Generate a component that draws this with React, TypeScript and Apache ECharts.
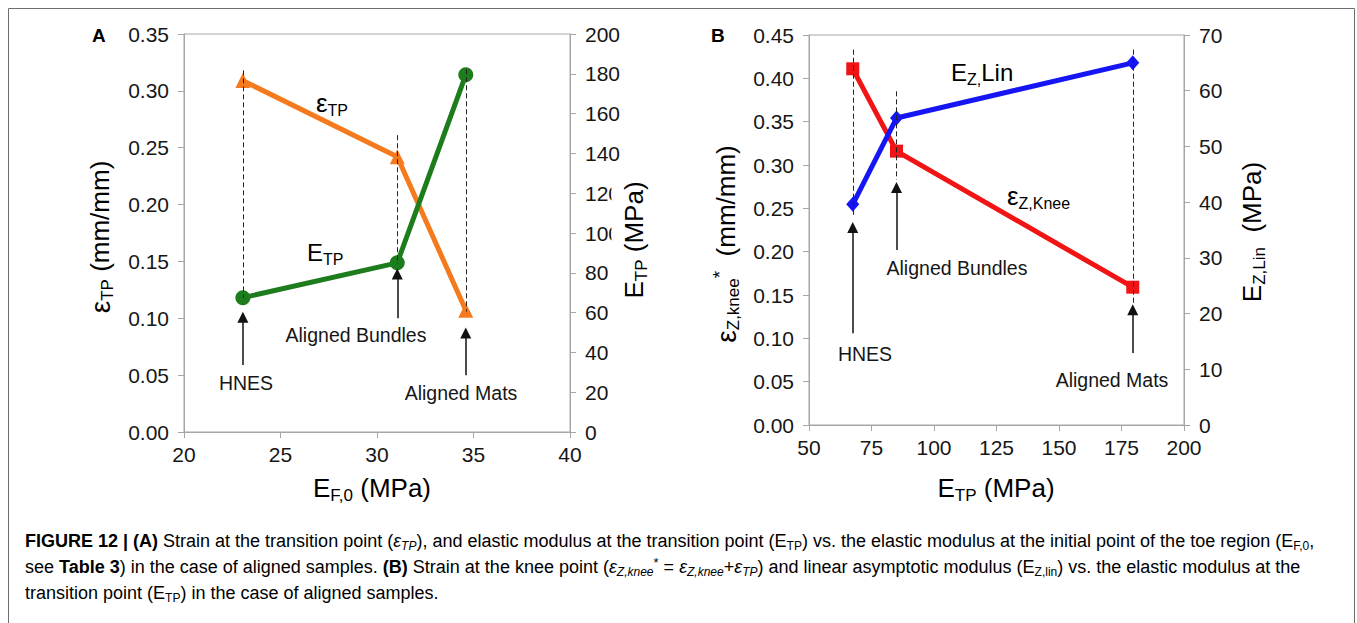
import React, { useEffect, useRef } from 'react';
import * as echarts from 'echarts';

// ---------- data ----------
const groups = ['HNES', 'Aligned Bundles', 'Aligned Mats'];
// Panel A: x = E_F,0 (MPa)
const eF0 = [23.05, 31.05, 34.6];
const epsTP = [0.309, 0.242, 0.107];      // left axis (mm/mm)
const eTP = [67.5, 85, 179.5];            // right axis (MPa)
// Panel B: x = E_TP (MPa)
const epsKnee = [0.411, 0.316, 0.159];    // left axis (mm/mm)
const ezLin = [39.6, 55.1, 65.0];         // right axis (MPa)

// guide (dashed) lines and arrows, in left-axis units
const guideTopA = [0.318, 0.261, 0.319];
const guideBotA = [0.118, 0.148, 0.106];
const arrowTailA = [0.059, 0.1, 0.05];
const arrowHeadA = [0.101, 0.139, 0.087];
const guideTopB = [0.433, 0.385, 0.433];
const guideBotB = [0.24, 0.283, 0.138];
const arrowTailB = [0.106, 0.202, 0.083];
const arrowHeadB = [0.228, 0.274, 0.133];

// axis ranges [min, max, step]
const xRangeA = [20, 40, 5];
const yRangeA = [0, 0.35, 0.05];
const y2RangeA = [0, 200, 20];
const xRangeB = [50, 200, 25];
const yRangeB = [0, 0.45, 0.05];
const y2RangeB = [0, 70, 10];

const FONT = 'Liberation Sans, Arial, sans-serif';
const TXT = '#161616';
const AXC = '#a6a6a6';

const zip = (a: number[], b: number[]) => a.map((v, i) => [v, b[i]]);

function richSet(main: number, sub: number, shift: number, color = TXT) {
  const lh = Math.max(main + 4, sub + shift * 2 + 2);
  return {
    n: { fontSize: main, lineHeight: lh, fontFamily: FONT, color },
    e: { fontSize: main + 2, lineHeight: lh, fontFamily: FONT, color },
    s: { fontSize: sub, lineHeight: sub, padding: [shift * 2, 0, 0, 0], fontFamily: FONT, color },
    u: { fontSize: sub + 2, lineHeight: sub, padding: [0, 0, shift * 2, 0], fontFamily: FONT, color },
  };
}

function txt(x: number, y: number, text: string, rich: any, align = 'left', rotate = 0, extra: any = {}) {
  return {
    type: 'text',
    x,
    y,
    rotation: rotate,
    z: 100,
    style: { text, rich, align, verticalAlign: 'middle', fontFamily: FONT, ...extra },
  };
}

function xAxis(idx: number, r: number[]) {
  return {
    type: 'value', gridIndex: idx, min: r[0], max: r[1], interval: r[2],
    axisLine: { show: true, lineStyle: { color: AXC, width: 1 } },
    axisTick: { show: true, length: 6, lineStyle: { color: AXC } },
    axisLabel: { color: TXT, fontSize: 21, fontFamily: FONT, margin: 12 },
    splitLine: { show: false },
  };
}
function yAxis(idx: number, r: number[], pos: string, dec: number) {
  return {
    type: 'value', gridIndex: idx, position: pos, min: r[0], max: r[1], interval: r[2],
    axisLine: { show: true, onZero: false, lineStyle: { color: AXC, width: 1 } },
    axisTick: { show: true, length: 6, lineStyle: { color: AXC } },
    axisLabel: {
      color: TXT, fontSize: 21, fontFamily: FONT, margin: 15,
      formatter: (v: number) => v.toFixed(dec),
    },
    splitLine: { show: false },
  };
}

function guideSeries(xi: number, yi: number, xs: number[], top: number[], bot: number[]) {
  return {
    type: 'lines', coordinateSystem: 'cartesian2d', xAxisIndex: xi, yAxisIndex: yi, z: 5,
    symbol: ['none', 'none'],
    lineStyle: { color: '#222', width: 1, type: [5, 3], opacity: 1 },
    data: xs.map((x, i) => ({ coords: [[x, top[i]], [x, bot[i]]] })),
    silent: true,
  };
}
function arrowSeries(xi: number, yi: number, xs: number[], tail: number[], head: number[]) {
  return {
    type: 'lines', coordinateSystem: 'cartesian2d', xAxisIndex: xi, yAxisIndex: yi, z: 5,
    symbol: ['none', 'triangle'], symbolSize: [9, 11],
    lineStyle: { color: '#111', width: 1.5, opacity: 1 },
    itemStyle: { color: '#111' },
    data: xs.map((x, i) => ({ coords: [[x, tail[i]], [x, head[i]]] })),
    silent: true,
  };
}

export default function App() {
  const ref = useRef<HTMLDivElement>(null);
  useEffect(() => {
    if (!ref.current) return;
    const chart = echarts.init(ref.current, undefined, { renderer: 'svg' });

    const rAx = richSet(26, 17, 7);
    const rLbl = richSet(24, 16, 7);
    const C = '#333';
    const cap = {
      n: { fontSize: 18, fontFamily: FONT, color: C, lineHeight: 24 },
      b: { fontSize: 18, fontFamily: FONT, color: C, fontWeight: 'bold', lineHeight: 24 },
      i: { fontSize: 18, fontFamily: FONT, color: C, fontStyle: 'italic', lineHeight: 24 },
      s: { fontSize: 12, fontFamily: FONT, color: C, lineHeight: 12, padding: [10, 0, 0, 0] },
      is: { fontSize: 12, fontFamily: FONT, color: C, fontStyle: 'italic', lineHeight: 12, padding: [10, 0, 0, 0] },
      u: { fontSize: 13, fontFamily: FONT, color: C, lineHeight: 12, padding: [0, 0, 10, 0] },
    };

    const graphic: any[] = [
      { type: 'rect', shape: { x: 8.5, y: 8.5, width: 1346, height: 700 }, style: { fill: 'none', stroke: '#6e6e6e', lineWidth: 1 }, silent: true, z: 0 },
      // panel letters
      txt(92, 35, 'A', null, 'left', 0, { fontSize: 19, fontWeight: 'bold', fill: '#000' }),
      txt(711, 35, 'B', null, 'left', 0, { fontSize: 19, fontWeight: 'bold', fill: '#000' }),
      // Panel A axis titles
      txt(100, 237, '{e|ε}{s|TP}{n| (mm/mm)}', rAx, 'center', Math.PI / 2),
      txt(631, 240, '{n|E}{s|TP}{n| (MPa)}', rAx, 'center', Math.PI / 2, { backgroundColor: '#fff', padding: [6, 2, 0, 2] }),
      txt(372, 488, '{n|E}{s|F,0}{n| (MPa)}', rAx, 'center'),
      // Panel B axis titles
      txt(726, 244, '{e|ε}{s|Z,knee}{u|*}{n|  (mm/mm)}', rAx, 'center', Math.PI / 2),
      txt(1252, 232, '{n|E}{s|Z,Lin}{n|  (MPa)}', rAx, 'center', Math.PI / 2),
      txt(996, 488, '{n|E}{s|TP}{n| (MPa)}', rAx, 'center'),
      // Panel A annotations
      txt(316, 103, '{e|ε}{s|TP}', rLbl, 'left'),
      txt(307, 252, '{n|E}{s|TP}', rLbl, 'left'),
      txt(356, 335, groups[1], null, 'center', 0, { fontSize: 19.5, fill: TXT }),
      txt(246, 383, groups[0], null, 'center', 0, { fontSize: 19.5, fill: TXT }),
      txt(461, 393, groups[2], null, 'center', 0, { fontSize: 19.5, fill: TXT }),
      // Panel B annotations
      txt(951, 72, '{n|E}{s|Z,}{n|Lin}', rLbl, 'left'),
      txt(1007, 196, '{e|ε}{s|Z,Knee}', rLbl, 'left'),
      txt(957, 268, groups[1], null, 'center', 0, { fontSize: 19.5, fill: TXT }),
      txt(865, 354, groups[0], null, 'center', 0, { fontSize: 19.5, fill: TXT }),
      txt(1112, 380, groups[2], null, 'center', 0, { fontSize: 19.5, fill: TXT }),
      // caption
      txt(25, 541, '{b|FIGURE 12 | (A)}{n| Strain at the transition point (}{i|ε}{is|TP}{n|), and elastic modulus at the transition point (E}{s|TP}{n|) vs. the elastic modulus at the initial point of the toe region (E}{s|F,0}{n|,}', cap, 'left'),
      txt(25, 567, '{n|see }{b|Table 3}{n|) in the case of aligned samples. }{b|(B)}{n| Strain at the knee point (}{i|ε}{is|Z,knee}{u|*}{n| = }{i|ε}{is|Z,knee}{n|+}{i|ε}{is|TP}{n|) and linear asymptotic modulus (E}{s|Z,lin}{n|) vs. the elastic modulus at the}', cap, 'left'),
      txt(25, 593, '{n|transition point (E}{s|TP}{n|) in the case of aligned samples.}', cap, 'left'),
    ];

    chart.setOption({
      animation: false,
      backgroundColor: '#fff',
      textStyle: { fontFamily: FONT },
      grid: [
        { left: 184, top: 34, width: 386, height: 398, show: true, borderColor: AXC, borderWidth: 1, containLabel: false, outerBoundsMode: 'none' },
        { left: 809, top: 35, width: 375, height: 390, show: true, borderColor: AXC, borderWidth: 1, containLabel: false, outerBoundsMode: 'none' },
      ],
      xAxis: [xAxis(0, xRangeA), xAxis(1, xRangeB)],
      yAxis: [
        yAxis(0, yRangeA, 'left', 2),
        yAxis(0, y2RangeA, 'right', 0),
        yAxis(1, yRangeB, 'left', 2),
        yAxis(1, y2RangeB, 'right', 0),
      ],
      series: [
        {
          name: 'εTP', type: 'line', xAxisIndex: 0, yAxisIndex: 0, data: zip(eF0, epsTP),
          symbol: 'triangle', symbolSize: 15, lineStyle: { color: '#f57a1e', width: 5 },
          itemStyle: { color: '#f57a1e' }, z: 2,
        },
        {
          name: 'ETP', type: 'line', xAxisIndex: 0, yAxisIndex: 1, data: zip(eF0, eTP),
          symbol: 'circle', symbolSize: 15, lineStyle: { color: '#1d7d1d', width: 5 },
          itemStyle: { color: '#1d7d1d' }, z: 3,
        },
        guideSeries(0, 0, eF0, guideTopA, guideBotA),
        arrowSeries(0, 0, eF0, arrowTailA, arrowHeadA),
        {
          name: 'εZ,Knee', type: 'line', xAxisIndex: 1, yAxisIndex: 2, data: zip(eTP, epsKnee),
          symbol: 'rect', symbolSize: 13, lineStyle: { color: '#f01414', width: 5 },
          itemStyle: { color: '#f01414' }, z: 2,
        },
        {
          name: 'EZ,Lin', type: 'line', xAxisIndex: 1, yAxisIndex: 3, data: zip(eTP, ezLin),
          symbol: 'diamond', symbolSize: [13, 15], lineStyle: { color: '#1616f5', width: 5 },
          itemStyle: { color: '#1616f5' }, z: 3,
        },
        guideSeries(1, 2, eTP, guideTopB, guideBotB),
        arrowSeries(1, 2, eTP, arrowTailB, arrowHeadB),
      ],
      graphic,
    });
    return () => chart.dispose();
  }, []);
  return (
    <div
      ref={ref}
      style={{ position: 'absolute', left: 0, top: 0, width: 1357, height: 623, background: '#fff' }}
    />
  );
}
